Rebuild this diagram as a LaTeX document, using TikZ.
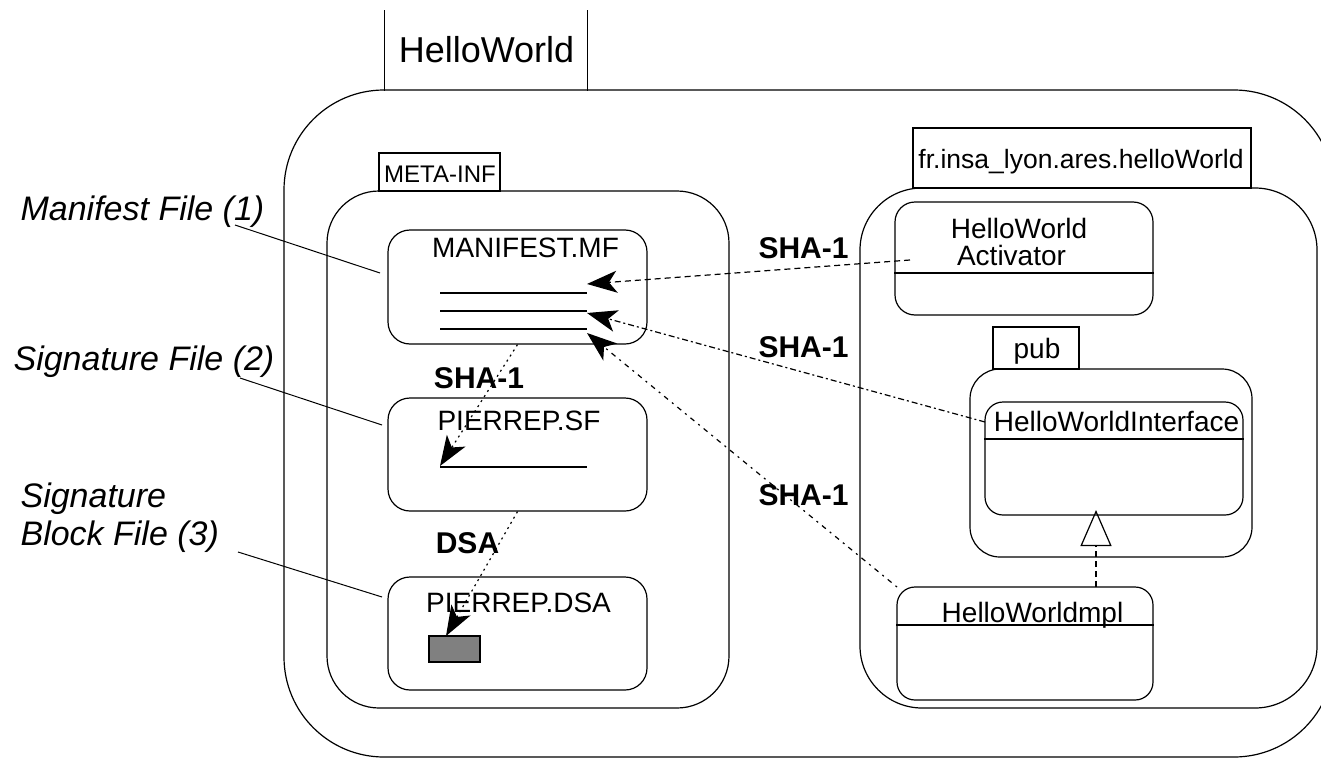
\documentclass[tikz,border=0pt]{standalone}
\usepackage{fontspec}
\setmainfont{Liberation Sans}
\usetikzlibrary{arrows.meta}
\newcommand\boxfont{\fontsize{28}{33}\selectfont}
\newcommand\tabfont{\fontsize{36}{42}\selectfont}
\newcommand\hashfont{\fontsize{30}{36}\selectfont\bfseries}
\newcommand\notefont{\fontsize{34}{39}\selectfont\itshape}
\begin{document}
\begin{tikzpicture}[x=1pt,y=-1pt,line width=1.2pt,
  frame/.style={draw,rounded corners=#1,inner sep=0pt},
  frame/.default=20pt,
  plainbox/.style={draw,inner sep=0pt},
  lbl/.style={inner sep=0pt,anchor=base,font=\boxfont},
  hash/.style={inner sep=0pt,anchor=base,font=\hashfont},
  note/.style={inner sep=0pt,anchor=base west,font=\notefont},
  sig/.style={-{Stealth[length=30pt,width=22pt,inset=8pt]}},
  leader/.style={line width=1pt}]
\useasboundingbox (0,0) rectangle (1321,760);

% bundle jar
\node[frame=100pt,minimum width=1050pt,minimum height=667pt] (jar) at (809,423.5) {};
\node[inner sep=0pt,minimum width=202pt,minimum height=79pt] (jartab) at (486,50.5) {};
\draw (jartab.north west) -- (jartab.south west) (jartab.north east) -- (jartab.south east);
\node[inner sep=0pt,anchor=base,font=\tabfont] (jarname) at (486.5,63) {HelloWorld};

% META-INF directory
\node[frame=52pt,minimum width=402pt,minimum height=517pt] (meta) at (528,449.5) {};
\node[plainbox,fill=white,minimum width=121pt,minimum height=38pt] (metatab) at (439.5,172) {};
\node[inner sep=0pt,anchor=base,font=\fontsize{24}{28}\selectfont] (metaname) at (440,182) {META-INF};

\node[frame=22pt,minimum width=259pt,minimum height=114pt] (mf) at (517.5,287) {};
\node[lbl] (mfname) at (525.5,257) {MANIFEST.MF};
\coordinate (mfa) at (440,293); \coordinate (mfA) at (587,293);
\coordinate (mfb) at (440,311); \coordinate (mfB) at (587,311);
\coordinate (mfc) at (440,329); \coordinate (mfC) at (587,329);
\draw (mfa) -- (mfA) (mfb) -- (mfB) (mfc) -- (mfC);

\node[frame=22pt,minimum width=259pt,minimum height=113pt] (sf) at (517.5,454.5) {};
\node[lbl] (sfname) at (519,430) {PIERREP.SF};
\coordinate (sfa) at (440,467); \coordinate (sfA) at (587,467);
\draw (sfa) -- (sfA);

\node[frame=22pt,minimum width=259pt,minimum height=113pt] (dsa) at (517.5,633.5) {};
\node[lbl] (dsaname) at (518.5,612) {PIERREP.DSA};
\node[plainbox,fill=black!50,minimum width=51pt,minimum height=26pt] (blk) at (454.5,649) {};

% package directory
\node[frame=62pt,minimum width=457pt,minimum height=520pt] (pkg) at (1088.5,448) {};
\node[plainbox,fill=white,minimum width=338pt,minimum height=60pt] (pkgtab) at (1082,158) {};
\node[lbl,font=\fontsize{26.5}{31}\selectfont] (pkgname) at (1081,168) {fr.insa\_lyon.ares.helloWorld};

\node[frame=20pt,minimum width=258pt,minimum height=113pt] (act) at (1024,258.5) {};
\draw (act.west |- 0,273) -- (act.east |- 0,273);
\node[lbl] (actname1) at (1019,238) {HelloWorld};
\node[lbl] (actname2) at (1011.5,265) {Activator};

\node[frame=30pt,minimum width=282pt,minimum height=188pt] (pub) at (1111,463) {};
\node[plainbox,fill=white,minimum width=86pt,minimum height=42pt] (pubtab) at (1036,348) {};
\node[lbl] (pubname) at (1037,358) {pub};

\node[frame=18pt,minimum width=258pt,minimum height=113pt] (itf) at (1114,458.5) {};
\draw (itf.west |- 0,439) -- (itf.east |- 0,439);
\node[lbl] (itfname) at (1116.5,431) {HelloWorldInterface};

\node[frame=18pt,minimum width=256pt,minimum height=113pt] (impl) at (1025,643.5) {};
\draw (impl.west |- 0,625) -- (impl.east |- 0,625);
\node[lbl] (implname) at (1032.5,622) {HelloWorldmpl};

% realization
\coordinate (implTop) at (1096,587);
\coordinate (itfBot) at (1096,510);
\draw[dashed,dash pattern=on 6pt off 4pt,-{Triangle[open,length=36pt,width=31pt]}] (implTop) -- (itfBot);

% digests of the classes into the manifest
\coordinate (actSrc) at (910,260);
\coordinate (itfSrc) at (985,422);
\coordinate (implSrc) at (897,587);
\coordinate (tip1) at (587,284);
\coordinate (tip2) at (587,313);
\coordinate (tip3) at (587,333);
\draw[sig,dash pattern=on 6pt off 4pt] (actSrc) -- (tip1);
\draw[sig,dash pattern=on 6pt off 3pt on 2pt off 3pt] (itfSrc) -- (tip2);
\draw[sig,dash pattern=on 2pt off 5pt on 5pt off 5pt] (implSrc) -- (tip3);
\node[hash] (h1) at (803.5,258) {SHA-1};
\node[hash] (h2) at (803.5,357) {SHA-1};
\node[hash] (h3) at (803.5,505) {SHA-1};

% manifest -> signature file -> signature block
\coordinate (blkTip) at (446,636);
\draw[sig,dash pattern=on 2pt off 4pt] (mf.south) -- (sfa |- 0,466);
\draw[sig,dash pattern=on 2pt off 4pt] (sf.south) -- (blkTip);
\node[hash] (h4) at (479,388) {SHA-1};
\node[hash] (h5) at (467.5,553) {DSA};

% annotations
\node[note] (n1) at (20,220) {Manifest File (1)};
\node[note] (n2) at (13,370) {Signature File (2)};
\node[note] (n3a) at (20,507) {Signature};
\node[note] (n3b) at (20,545) {Block File (3)};
\coordinate (l1) at (235,225); \coordinate (l1e) at (380,273);
\coordinate (l2) at (240,378); \coordinate (l2e) at (382,425);
\coordinate (l3) at (238,552); \coordinate (l3e) at (382,597);
\draw[leader] (l1) -- (l1e) (l2) -- (l2e) (l3) -- (l3e);
\end{tikzpicture}
\end{document}
